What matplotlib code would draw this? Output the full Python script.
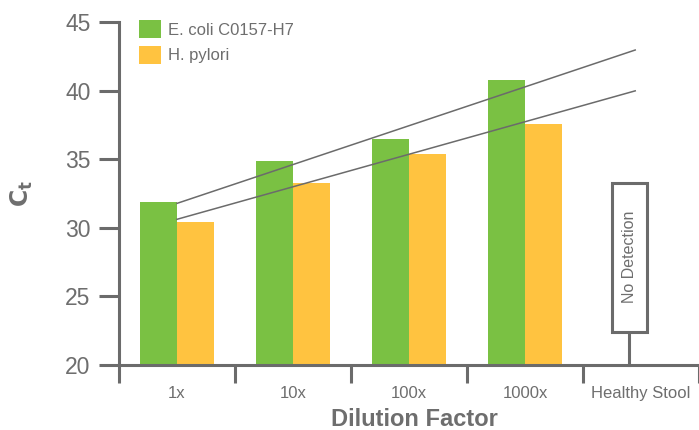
import matplotlib.pyplot as plt
import numpy as np
from matplotlib.patches import Rectangle

# values (Ct per dilution)
categories = ['1x', '10x', '100x', '1000x', 'Healthy Stool']
ecoli = [31.9, 34.9, 36.5, 40.8]
hpylori = [30.4, 33.3, 35.4, 37.6]
series_names = ['E. coli C0157-H7', 'H. pylori']

green = '#7ac143'
orange = '#ffc340'
gray = '#6b6b6b'
txt = '#6e6e6e'

plt.rcParams['font.family'] = ['Liberation Sans', 'DejaVu Sans']

fig = plt.figure(figsize=(6.99, 4.30), dpi=100)
ax = fig.add_axes([119/699, 1-365/430, 580/699, 343/430])

w = 0.32
x = np.arange(len(ecoli))
b1 = ax.bar(x - w/2, ecoli, w, bottom=0, color=green, label=series_names[0], zorder=2)
b2 = ax.bar(x + w/2, hpylori, w, color=orange, label=series_names[1], zorder=2)

# linear trend lines through each series
xt = np.array([0, 3.95])
for vals in (ecoli, hpylori):
    k, c = np.polyfit(x, vals, 1)
    ax.plot(xt, k*xt + c, color=gray, lw=1.1, zorder=3)

# "No Detection" marker for the healthy stool sample
nd_x, nd_lo, nd_hi, nd_w = 3.9, 22.4, 33.3, 0.3
ax.plot([nd_x, nd_x], [20, nd_lo], color=gray, lw=2.2, zorder=1, clip_on=False)
ax.add_patch(Rectangle((nd_x - nd_w/2, nd_lo), nd_w, nd_hi - nd_lo,
                       facecolor='white', edgecolor=gray, lw=2.2, zorder=3))
ax.text(nd_x, (nd_lo + nd_hi)/2, 'No Detection', rotation=90, ha='center', va='center',
        fontsize=11.5, color=txt, zorder=4)

ax.set_ylim(20, 45)
ax.set_xlim(-0.5, 4.445)
ax.set_yticks([20, 25, 30, 35, 40, 45])
ax.set_xticks(np.arange(len(categories)))
ax.set_xticklabels(categories)
ax.set_xticks(np.arange(len(categories) + 1) - 0.5, minor=True)

for s in ['top', 'right']:
    ax.spines[s].set_visible(False)
for s in ['left', 'bottom']:
    ax.spines[s].set_color(gray)
    ax.spines[s].set_linewidth(2.2)

ax.tick_params(axis='y', length=14.4, width=2.2, color=gray, labelsize=16.5,
               labelcolor=txt, pad=6)
ax.tick_params(axis='x', which='major', length=0, pad=15, labelsize=12, labelcolor=txt)
ax.tick_params(axis='x', which='minor', length=13, width=2.2, color=gray)

fig.text(414/699, 1-420/430, 'Dilution Factor', ha='center', va='center',
         fontsize=17, fontweight='bold', color=txt)
fig.text(22/699, 1-193/430, r'$\mathbf{C_t}$', ha='center', va='center',
         rotation=90, fontsize=17, color=txt)

leg = ax.legend(handles=[b1, b2], loc='upper left', bbox_to_anchor=(139/699, 1-20/430),
                bbox_transform=fig.transFigure, frameon=False, fontsize=12,
                handlelength=1.3, handleheight=1.3, labelspacing=0.45,
                handletextpad=0.45, borderpad=0, borderaxespad=0)
for t in leg.get_texts():
    t.set_color(txt)

fig.savefig('out.png', dpi=100)
